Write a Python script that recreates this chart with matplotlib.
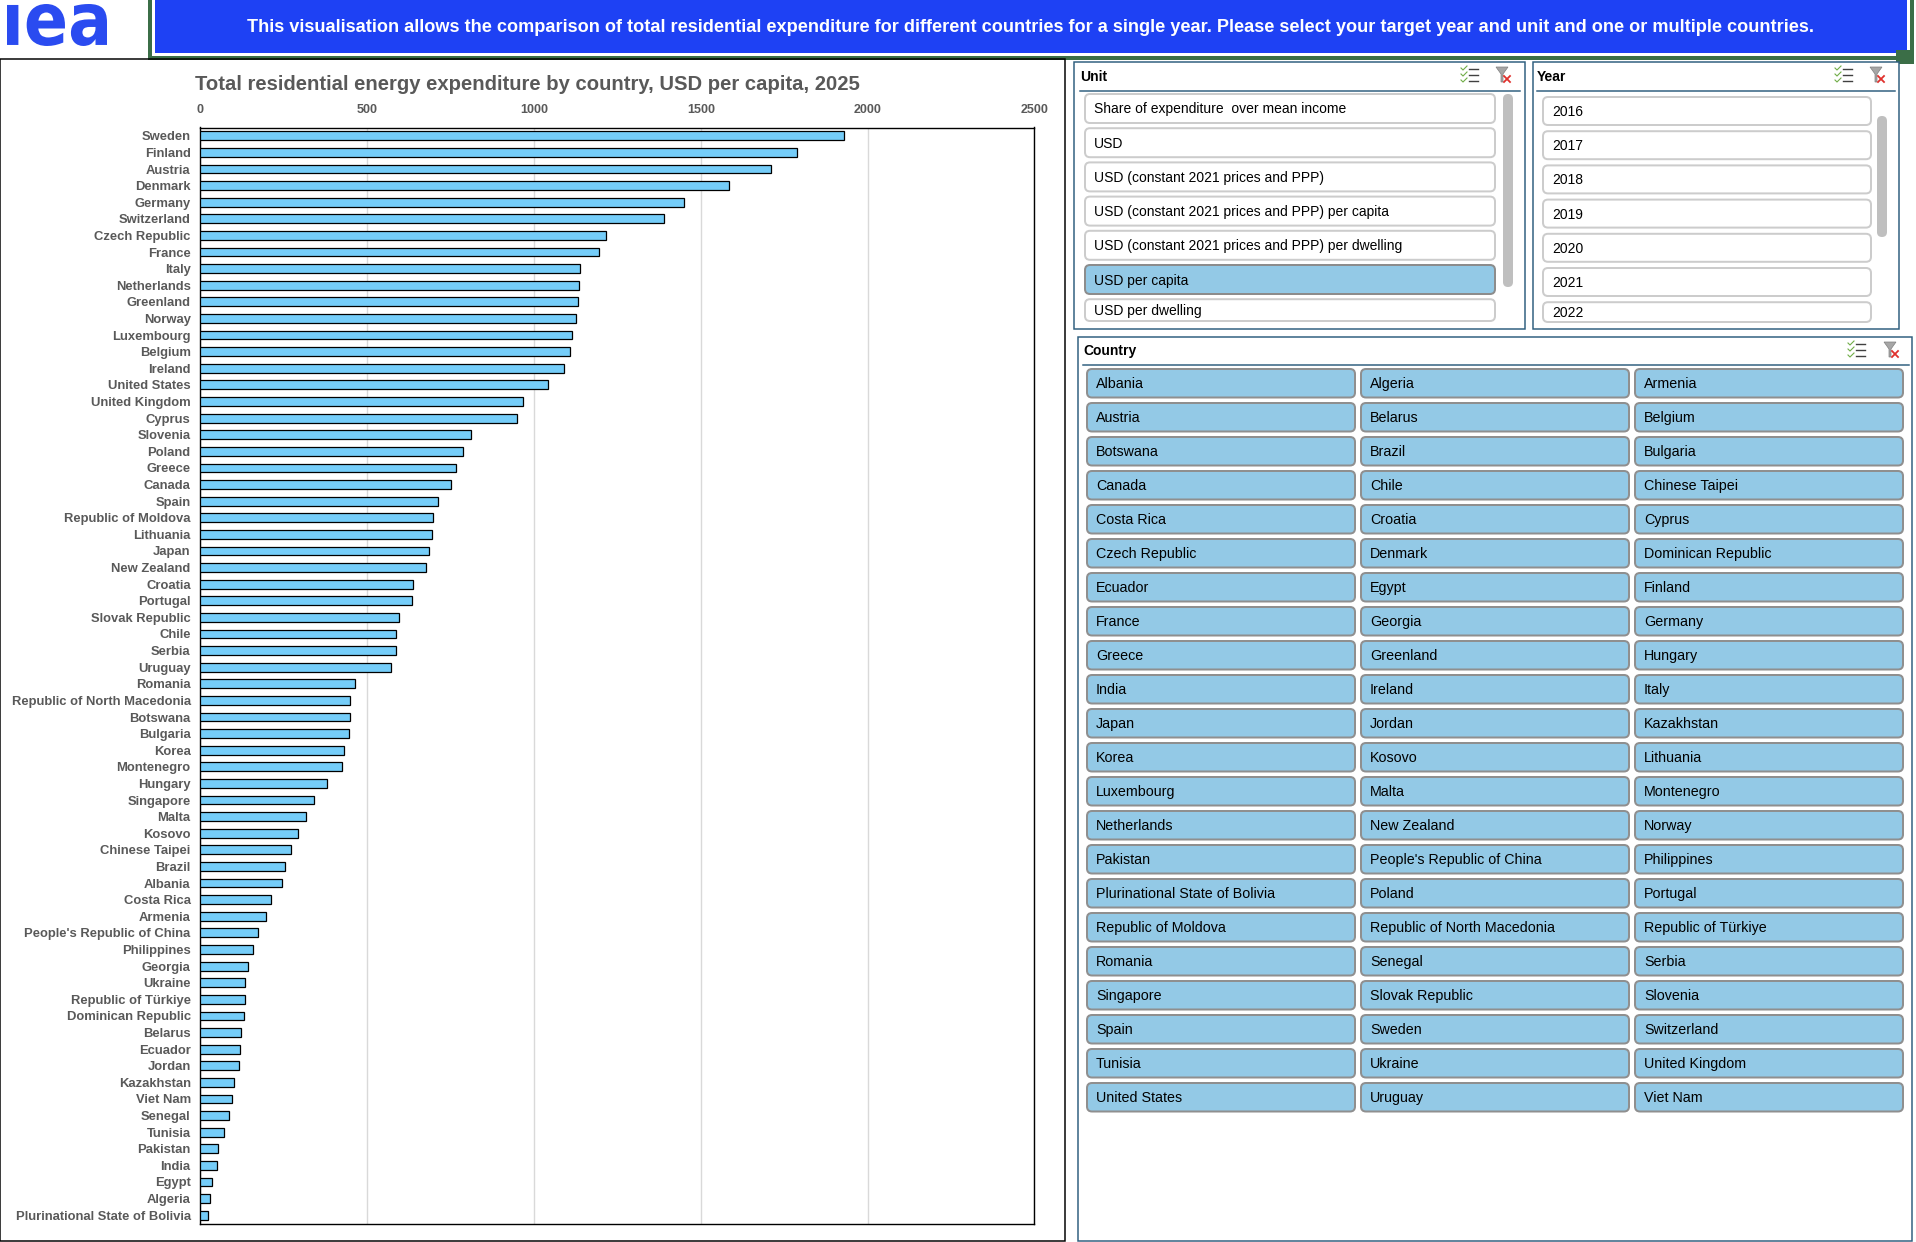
import matplotlib
matplotlib.use("Agg")
import matplotlib.pyplot as plt
from matplotlib.patches import FancyBboxPatch, Rectangle, PathPatch, Polygon
from matplotlib.textpath import TextPath
from matplotlib.font_manager import FontProperties
from matplotlib.transforms import Affine2D

# chart data, top to bottom
countries = [
    "Sweden", "Finland", "Austria", "Denmark", "Germany", "Switzerland",
    "Czech Republic", "France", "Italy", "Netherlands", "Greenland", "Norway",
    "Luxembourg", "Belgium", "Ireland", "United States", "United Kingdom",
    "Cyprus", "Slovenia", "Poland", "Greece", "Canada", "Spain",
    "Republic of Moldova", "Lithuania", "Japan", "New Zealand", "Croatia",
    "Portugal", "Slovak Republic", "Chile", "Serbia", "Uruguay", "Romania",
    "Republic of North Macedonia", "Botswana", "Bulgaria", "Korea",
    "Montenegro", "Hungary", "Singapore", "Malta", "Kosovo", "Chinese Taipei",
    "Brazil", "Albania", "Costa Rica", "Armenia", "People's Republic of China",
    "Philippines", "Georgia", "Ukraine", "Republic of Türkiye",
    "Dominican Republic", "Belarus", "Ecuador", "Jordan", "Kazakhstan",
    "Viet Nam", "Senegal", "Tunisia", "Pakistan", "India", "Egypt", "Algeria",
    "Plurinational State of Bolivia",
]
usd_per_capita = [
    1928, 1788, 1709, 1584, 1451, 1389, 1215, 1196, 1139, 1136, 1131, 1127,
    1114, 1107, 1090, 1041, 966, 950, 812, 786, 766, 751, 711, 697, 693, 684,
    675, 636, 633, 594, 587, 587, 572, 464, 449, 449, 444, 429, 423, 378, 341,
    317, 293, 272, 254, 246, 213, 198, 174, 159, 144, 134, 134, 131, 123, 120,
    117, 101, 95, 86, 71, 53, 51, 36, 29, 23,
]
x_ticks = [0, 500, 1000, 1500, 2000, 2500]

# slicer contents
units = [
    "Share of expenditure  over mean income", "USD",
    "USD (constant 2021 prices and PPP)",
    "USD (constant 2021 prices and PPP) per capita",
    "USD (constant 2021 prices and PPP) per dwelling",
    "USD per capita", "USD per dwelling",
]
selected_unit = "USD per capita"
years = ["2016", "2017", "2018", "2019", "2020", "2021", "2022"]
country_buttons = [
    "Albania", "Algeria", "Armenia", "Austria", "Belarus", "Belgium",
    "Botswana", "Brazil", "Bulgaria", "Canada", "Chile", "Chinese Taipei",
    "Costa Rica", "Croatia", "Cyprus", "Czech Republic", "Denmark",
    "Dominican Republic", "Ecuador", "Egypt", "Finland", "France", "Georgia",
    "Germany", "Greece", "Greenland", "Hungary", "India", "Ireland", "Italy",
    "Japan", "Jordan", "Kazakhstan", "Korea", "Kosovo", "Lithuania",
    "Luxembourg", "Malta", "Montenegro", "Netherlands", "New Zealand",
    "Norway", "Pakistan", "People's Republic of China", "Philippines",
    "Plurinational State of Bolivia", "Poland", "Portugal",
    "Republic of Moldova", "Republic of North Macedonia",
    "Republic of Türkiye", "Romania", "Senegal", "Serbia", "Singapore",
    "Slovak Republic", "Slovenia", "Spain", "Sweden", "Switzerland",
    "Tunisia", "Ukraine", "United Kingdom", "United States", "Uruguay",
    "Viet Nam",
]

title = "Total residential energy expenditure by country, USD per capita, 2025"
banner = ("This visualisation allows the comparison of total residential expenditure "
          "for different countries for a single year. Please select your target year "
          "and unit and one or multiple countries.")

W, H = 1916, 1242
PX = 0.72  # one pixel in points at dpi 100

plt.rcParams['font.family'] = ['Liberation Sans', 'DejaVu Sans']

fig = plt.figure(figsize=(W / 100, H / 100), dpi=100)
bg = fig.add_axes([0, 0, 1, 1])
bg.set_xlim(0, W)
bg.set_ylim(H, 0)
bg.axis('off')

BLUE = '#1e41f4'
GRAY_TXT = '#595959'
FRAME = '#2e5f7f'
BTN_FILL = '#93c9e6'


def rbox(x0, y0, x1, y1, fc, ec, lw, r=5, z=2):
    p = FancyBboxPatch((x0, y0), x1 - x0, y1 - y0,
                       boxstyle=f"round,pad=0,rounding_size={r}",
                       fc=fc, ec=ec, lw=lw * PX, zorder=z)
    bg.add_patch(p)


def multi_icon(cx, cy):
    for dy in (-6, 0, 6):
        bg.plot([cx - 9, cx - 7, cx - 3], [cy + dy - 1, cy + dy + 1, cy + dy - 3],
                color='#70ad47', lw=0.8, zorder=5)
        bg.plot([cx - 1, cx + 8], [cy + dy, cy + dy], color='#404040', lw=1.0, zorder=5)


def clear_icon(cx, cy):
    bg.add_patch(Polygon([(cx - 7, cy - 8), (cx + 5, cy - 8), (cx, cy - 1),
                          (cx, cy + 7), (cx - 2, cy + 7), (cx - 2, cy - 1)],
                         closed=True, fc='#a6a6a6', ec='#808080', lw=0.5, zorder=5))
    bg.plot([cx + 1, cx + 7], [cy + 1, cy + 7], color='#e0302c', lw=1.3, zorder=6)
    bg.plot([cx + 1, cx + 7], [cy + 7, cy + 1], color='#e0302c', lw=1.3, zorder=6)


# logo
tp = TextPath((0, 0), "ıea", prop=FontProperties(family='DejaVu Sans', weight='bold'))
ext = tp.get_extents()
lx0, lx1, ly0, ly1 = 7, 107, 4, 46
sx = (lx1 - lx0) / ext.width
sy = (ly1 - ly0) / ext.height
tr = Affine2D().translate(-ext.x0, -ext.y0).scale(sx, -sy).translate(lx0, ly1)
bg.add_patch(PathPatch(tr.transform_path(tp), fc='#2a4bf0', ec='none', zorder=3))

# banner
bg.add_patch(Rectangle((148, -5), 1766, 65, fc='#3b6e47', ec='none', zorder=1))
bg.add_patch(Rectangle((152, -5), 1758, 61, fc='white', ec='none', zorder=1))
bg.add_patch(Rectangle((155, -5), 1752, 58, fc=BLUE, ec='none', zorder=1))
bg.add_patch(Rectangle((1896, 50), 18, 14, fc='#3b6e47', ec='none', zorder=1))
bg.text(1031, 28, banner, color='white', fontsize=13.1, fontweight='bold',
        ha='center', va='center', zorder=3)

# chart panel frame
bg.add_patch(Rectangle((0, 59), 1065, 1182, fc='none', ec='black', lw=1.5 * PX, zorder=1))
bg.text(195, 85, title, color=GRAY_TXT, fontsize=14.6, fontweight='bold',
        ha='left', va='center')

# unit slicer
bg.add_patch(Rectangle((1074, 62), 451, 267, fc='white', ec=FRAME, lw=1.5 * PX, zorder=1))
bg.text(1080, 77, "Unit", fontsize=10, fontweight='bold', ha='left', va='center')
bg.plot([1080, 1520], [91, 91], color=FRAME, lw=1.5 * PX)
multi_icon(1470, 75)
clear_icon(1503, 75)
for i, u in enumerate(units):
    top = 94 + i * 34.2
    bot = min(top + 29, 321)
    sel = u == selected_unit
    rbox(1085, top, 1495, bot, BTN_FILL if sel else 'white',
         '#8c8c8c' if sel else '#cccccc', 2)
    bg.text(1094, (top + bot) / 2 + 1, u, fontsize=10, ha='left', va='center', zorder=4)
rbox(1503, 94, 1513, 287, '#bfbfbf', 'none', 0, r=5)

# year slicer
bg.add_patch(Rectangle((1533, 62), 366, 267, fc='white', ec=FRAME, lw=1.5 * PX, zorder=1))
bg.text(1537, 77, "Year", fontsize=10, fontweight='bold', ha='left', va='center')
bg.plot([1537, 1895], [91, 91], color=FRAME, lw=1.5 * PX)
multi_icon(1844, 75)
clear_icon(1877, 75)
for i, yr in enumerate(years):
    top = 97 + i * 34.2
    bot = min(top + 28, 322)
    rbox(1543, top, 1871, bot, 'white', '#cccccc', 2)
    bg.text(1552, (top + bot) / 2 + 1, yr, fontsize=10, ha='left', va='center', zorder=4)
rbox(1877, 116, 1887, 237, '#bfbfbf', 'none', 0, r=5)

# country slicer
bg.add_patch(Rectangle((1078, 337), 834, 904, fc='white', ec=FRAME, lw=1.5 * PX, zorder=1))
bg.text(1083, 351, "Country", fontsize=10, fontweight='bold', ha='left', va='center')
bg.plot([1083, 1909], [365, 365], color=FRAME, lw=1.5 * PX)
multi_icon(1857, 350)
clear_icon(1891, 350)
col_x = [1087, 1361, 1635]
for i, c in enumerate(country_buttons):
    r, k = divmod(i, 3)
    top = 369 + r * 34
    x0 = col_x[k]
    rbox(x0, top, x0 + 268, top + 28.5, BTN_FILL, '#8f8f8f', 2)
    bg.text(x0 + 9, top + 15, c, fontsize=10.3, ha='left', va='center', zorder=4)

# bar chart
ax_l, ax_r, ax_t, ax_b = 200.4, 1034.4, 127.5, 1223.5
ax = fig.add_axes([ax_l / W, 1 - ax_b / H, (ax_r - ax_l) / W, (ax_b - ax_t) / H])
ypos = list(range(len(countries)))
ax.barh(ypos, usd_per_capita, height=0.53, color='#75cdf9', edgecolor='black',
        linewidth=0.9, zorder=3)
ax.set_xlim(x_ticks[0], x_ticks[-1])
ax.set_ylim(len(countries) - 0.5, -0.5)
ax.set_yticks(ypos)
ax.set_yticklabels(countries)
ax.set_xticks(x_ticks)
ax.xaxis.tick_top()
ax.tick_params(axis='y', length=0, pad=7, labelsize=9.4, labelcolor=GRAY_TXT)
ax.tick_params(axis='x', length=0, pad=8, labelsize=9, labelcolor=GRAY_TXT)
for lab in ax.get_xticklabels() + ax.get_yticklabels():
    lab.set_fontweight('bold')
ax.grid(axis='x', color='#d9d9d9', lw=1)
ax.set_axisbelow(True)
for s in ax.spines.values():
    s.set_color('black')
    s.set_linewidth(1)

fig.savefig("out.png", dpi=100)
